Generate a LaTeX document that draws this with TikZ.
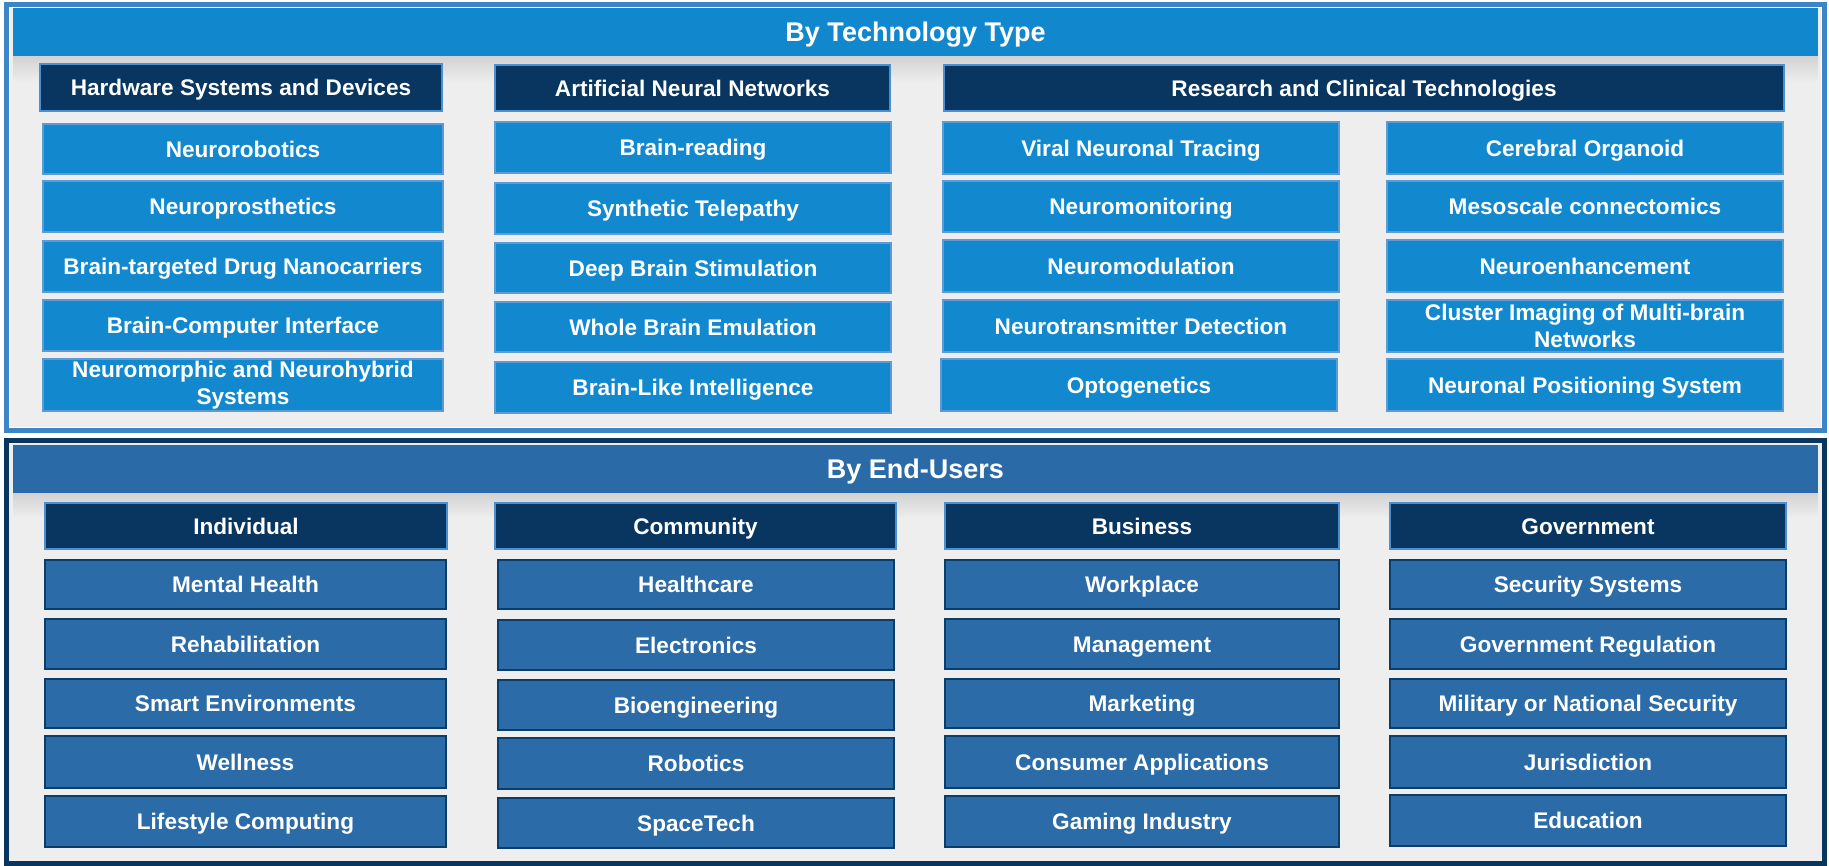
\documentclass[tikz,border=0pt]{standalone}
\usepackage{fontspec}
\setmainfont{Liberation Sans}
\definecolor{panelbg}{HTML}{EEEEEE}
\definecolor{topframe}{HTML}{3D85C6}
\definecolor{botframe}{HTML}{08365F}
\definecolor{topbar}{HTML}{1188CE}
\definecolor{botbar}{HTML}{2A6AA6}
\definecolor{hdrfill}{HTML}{083661}
\definecolor{hdrborder}{HTML}{4A8FD0}
\definecolor{titemfill}{HTML}{1289CF}
\definecolor{titemborder}{HTML}{5C9BD6}
\definecolor{bitemfill}{HTML}{2B6BA7}
\definecolor{bitemborder}{HTML}{0B3D6B}
\definecolor{shadowgray}{HTML}{D2D2D2}
\newcommand\mybox[7]{%
  \pgfmathsetmacro\bxw{(#5-#3)*0.5}%
  \pgfmathsetmacro\bxh{(#6-#4)*0.5}%
  \node[#2, minimum width=\bxw pt, minimum height=\bxh pt] (#1) at ({(#3+#5)/2},{(#4+#6)/2}) {#7};}
\tikzset{
  base/.style={rectangle, inner sep=0pt, outer sep=0pt, text=white, align=center,
    font=\bfseries\fontsize{11.3}{13.5}\selectfont, line width=0.6pt,
    text height=8.1pt, text depth=0pt},
  twoline/.style={text height=, text depth=},
  hdr/.style={base, fill=hdrfill, draw=hdrborder},
  titem/.style={base, fill=titemfill, draw=titemborder},
  bitem/.style={base, fill=bitemfill, draw=bitemborder},
  titlebar/.style={rectangle, inner sep=0pt, outer sep=0pt, text=white,
    font=\bfseries\fontsize{13.5}{16}\selectfont, text height=9.7pt, text depth=0pt},
}
\begin{document}
\begin{tikzpicture}[x=0.5pt,y=-0.5pt]
\useasboundingbox (0,0) rectangle (1829,866);
% frames
\draw[topframe, line width=2.5pt, fill=white] (6.5,4.5) rectangle (1824.5,430.5);
\fill[panelbg] (10,8) rectangle (1821,427);
\draw[botframe, line width=2.5pt, fill=panelbg] (6.5,440.5) rectangle (1824.5,863.5);
% shadows under title bars
\shade[top color=shadowgray, bottom color=panelbg] (13,56) rectangle (1818,82);
\shade[top color=shadowgray, bottom color=panelbg] (13,493) rectangle (1818,518);
% title bars
\mybox{ttitle}{titlebar, fill=topbar}{13}{8}{1818}{56}{By Technology Type}
\mybox{btitle}{titlebar, fill=botbar}{13}{445}{1818}{493}{By End-Users}
% ---------- top headers
\mybox{h1}{hdr}{40}{64}{442}{111}{Hardware Systems and Devices}
\mybox{h2}{hdr}{495}{65}{890}{111}{Artificial Neural Networks}
\mybox{h3}{hdr}{944}{65}{1784}{111}{Research and Clinical Technologies}
% column 1
\mybox{a1}{titem}{43}{124}{443}{174}{Neurorobotics}
\mybox{a2}{titem}{43}{181}{443}{232}{Neuroprosthetics}
\mybox{a3}{titem}{43}{241}{443}{292}{Brain-targeted Drug Nanocarriers}
\mybox{a4}{titem}{43}{300}{443}{351}{Brain-Computer Interface}
\mybox{a5}{titem, twoline}{43}{359}{443}{411}{Neuromorphic and Neurohybrid\\Systems}
% column 2
\mybox{b1}{titem}{495}{122}{891}{173}{Brain-reading}
\mybox{b2}{titem}{495}{183}{891}{234}{Synthetic Telepathy}
\mybox{b3}{titem}{495}{243}{891}{293}{Deep Brain Stimulation}
\mybox{b4}{titem}{495}{302}{891}{352}{Whole Brain Emulation}
\mybox{b5}{titem}{495}{362}{891}{413}{Brain-Like Intelligence}
% column 3a
\mybox{c1}{titem}{943}{122}{1339}{174}{Viral Neuronal Tracing}
\mybox{c2}{titem}{943}{181}{1339}{232}{Neuromonitoring}
\mybox{c3}{titem}{943}{240}{1339}{292}{Neuromodulation}
\mybox{c4}{titem}{943}{300}{1339}{352}{Neurotransmitter Detection}
\mybox{c5}{titem}{941}{359}{1337}{411}{Optogenetics}
% column 3b
\mybox{d1}{titem}{1387}{122}{1783}{174}{Cerebral Organoid}
\mybox{d2}{titem}{1387}{181}{1783}{232}{Mesoscale connectomics}
\mybox{d3}{titem}{1387}{240}{1783}{292}{Neuroenhancement}
\mybox{d4}{titem, twoline}{1387}{300}{1783}{352}{Cluster Imaging of Multi-brain\\Networks}
\mybox{d5}{titem}{1387}{359}{1783}{411}{Neuronal Positioning System}
% ---------- bottom headers
\mybox{g1}{hdr}{45}{503}{447}{549}{Individual}
\mybox{g2}{hdr}{495}{503}{896}{549}{Community}
\mybox{g3}{hdr}{945}{503}{1339}{549}{Business}
\mybox{g4}{hdr}{1390}{503}{1786}{549}{Government}
% individual
\mybox{e1}{bitem}{45}{560}{446}{609}{Mental Health}
\mybox{e2}{bitem}{45}{619}{446}{669}{Rehabilitation}
\mybox{e3}{bitem}{45}{679}{446}{728}{Smart Environments}
\mybox{e4}{bitem}{45}{736}{446}{788}{Wellness}
\mybox{e5}{bitem}{45}{796}{446}{847}{Lifestyle Computing}
% community
\mybox{f1}{bitem}{498}{560}{894}{609}{Healthcare}
\mybox{f2}{bitem}{498}{620}{894}{670}{Electronics}
\mybox{f3}{bitem}{498}{680}{894}{730}{Bioengineering}
\mybox{f4}{bitem}{498}{738}{894}{789}{Robotics}
\mybox{f5}{bitem}{498}{798}{894}{848}{SpaceTech}
% business
\mybox{k1}{bitem}{945}{560}{1339}{609}{Workplace}
\mybox{k2}{bitem}{945}{619}{1339}{669}{Management}
\mybox{k3}{bitem}{945}{679}{1339}{728}{Marketing}
\mybox{k4}{bitem}{945}{736}{1339}{788}{Consumer Applications}
\mybox{k5}{bitem}{945}{796}{1339}{847}{Gaming Industry}
% government
\mybox{m1}{bitem}{1390}{560}{1786}{609}{Security Systems}
\mybox{m2}{bitem}{1390}{619}{1786}{669}{Government Regulation}
\mybox{m3}{bitem}{1390}{679}{1786}{728}{Military or National Security}
\mybox{m4}{bitem}{1390}{736}{1786}{788}{Jurisdiction}
\mybox{m5}{bitem}{1390}{795}{1786}{846}{Education}
\end{tikzpicture}
\end{document}
